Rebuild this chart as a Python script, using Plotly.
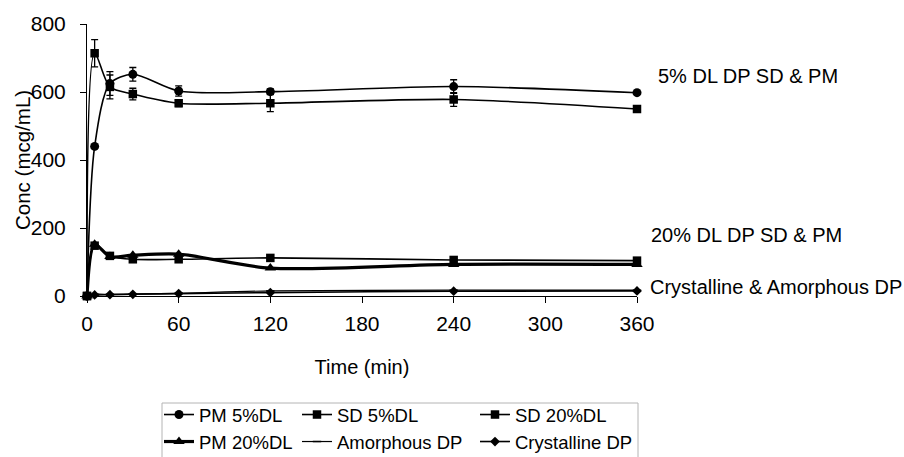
import plotly.graph_objects as go

time_min = [0, 5, 15, 30, 60, 120, 240, 360]

pm5_conc = [0, 440, 625, 652, 603, 601, 616, 598]
pm5_err = [0, 0, 35, 20, 15, 8, 20, 0]

sd5_conc = [0, 714, 615, 594, 567, 567, 578, 550]
sd5_err = [0, 40, 35, 17, 10, 25, 20, 0]

sd20_conc = [0, 148, 118, 108, 108, 112, 106, 104]
pm20_conc = [0, 152, 116, 120, 123, 82, 93, 93]

amorphous_conc = [0, 5, 5, 6, 8, 15, 17, 17]
crystalline_conc = [0, 3, 4, 5, 7, 10, 14, 15]

x_ticks = [0, 60, 120, 180, 240, 300, 360]
y_ticks = [0, 200, 400, 600, 800]

FONT = "Liberation Sans, Arial, sans-serif"
BLACK = "#000000"

# plot-area geometry (pixels)
L, R, T, B = 87, 637, 24, 296
PW, PH = R - L, B - T


def px_x(p):
    return (p - L) / PW


def px_y(p):
    return (B - p) / PH


fig = go.Figure()

# legend slot per trace: (legend id, text left x px, text centre y px)
legend_slots = [
    ("legend", 199, 415),
    ("legend2", 337, 415),
    ("legend3", 515, 415),
    ("legend4", 199, 442),
    ("legend5", 337, 442),
    ("legend6", 515, 442),
]


def add(name, y, symbol, msize, lwidth, legend_id, err=None, mline=0):
    kw = {}
    if err is not None:
        kw["error_y"] = dict(type="data", array=err, visible=True, color=BLACK,
                             thickness=1.3, width=3.5)
    fig.add_trace(go.Scatter(
        x=time_min, y=y, name=name, mode="lines+markers",
        line=dict(color=BLACK, width=lwidth, shape="spline", smoothing=0.8),
        marker=dict(symbol=symbol, size=msize, color=BLACK,
                    line=dict(color=BLACK, width=mline)),
        cliponaxis=False, legend=legend_id, **kw))


add("PM 5%DL", pm5_conc, "circle", 9, 1.6, "legend", pm5_err)
add("SD 5%DL", sd5_conc, "square", 8.5, 1.6, "legend2", sd5_err)
add("SD 20%DL", sd20_conc, "square", 8.5, 1.6, "legend3")
add("PM 20%DL", pm20_conc, "triangle-up", 10, 3.2, "legend4")
add("Amorphous DP", amorphous_conc, "line-ew", 6, 1.2, "legend5", mline=1.5)
add("Crystalline DP", crystalline_conc, "diamond", 7.5, 1.6, "legend6")

legends = {}
for lid, tx, ty in legend_slots:
    legends[lid] = dict(
        orientation="h", x=px_x(tx - 40), xanchor="left",
        y=px_y(ty - 19), yanchor="top",
        font=dict(family=FONT, size=18.5, color=BLACK),
        borderwidth=0, bgcolor="rgba(0,0,0,0)", itemwidth=30,
    )

fig.update_layout(
    width=904, height=457,
    margin=dict(l=L, r=904 - R, t=T, b=457 - B, autoexpand=False),
    paper_bgcolor="white", plot_bgcolor="white",
    font=dict(family=FONT, size=21, color=BLACK),
    showlegend=True,
    xaxis=dict(
        range=[0, 360], tickmode="array", tickvals=x_ticks,
        ticktext=[str(v) for v in x_ticks],
        showgrid=False, zeroline=False, showline=True, linecolor=BLACK,
        linewidth=1, ticks="outside", ticklen=6, tickcolor=BLACK,
        ticklabelstandoff=3, tickfont=dict(family=FONT, size=21),
        title=dict(text="Time (min)", standoff=25,
                   font=dict(family=FONT, size=20)),
    ),
    yaxis=dict(
        range=[0, 800], tickmode="array", tickvals=y_ticks,
        ticktext=[str(v) for v in y_ticks],
        showgrid=False, zeroline=False, showline=True, linecolor=BLACK,
        linewidth=1, ticks="outside", ticklen=6, tickcolor=BLACK,
        ticklabelstandoff=10, tickfont=dict(family=FONT, size=21),
    ),
    **legends,
)

# y-axis title placed to match the reference position
fig.add_annotation(
    text="Conc (mcg/mL)", xref="paper", yref="paper",
    x=px_x(22), y=0.5, xanchor="center", yanchor="middle",
    textangle=-90, showarrow=False,
    font=dict(family=FONT, size=20.5, color=BLACK),
)

# legend frame
fig.add_shape(type="rect", xref="paper", yref="paper",
              x0=px_x(162), x1=px_x(638), y0=px_y(403), y1=px_y(480),
              line=dict(color="#b4b4b4", width=1), fillcolor="rgba(0,0,0,0)",
              layer="below")

labels = [
    ("5% DL DP SD & PM", 656, 76),
    ("20% DL DP SD & PM", 649, 235),
    ("Crystalline & Amorphous DP", 648, 287),
]
for txt, xpix, ypix in labels:
    fig.add_annotation(
        text=txt, xref="paper", yref="paper",
        x=px_x(xpix), y=px_y(ypix),
        xanchor="left", yanchor="middle", showarrow=False,
        font=dict(family=FONT, size=20, color=BLACK),
    )

fig.write_html("out.html", config={"displayModeBar": False},
               post_script="document.body.style.margin='0px';")
